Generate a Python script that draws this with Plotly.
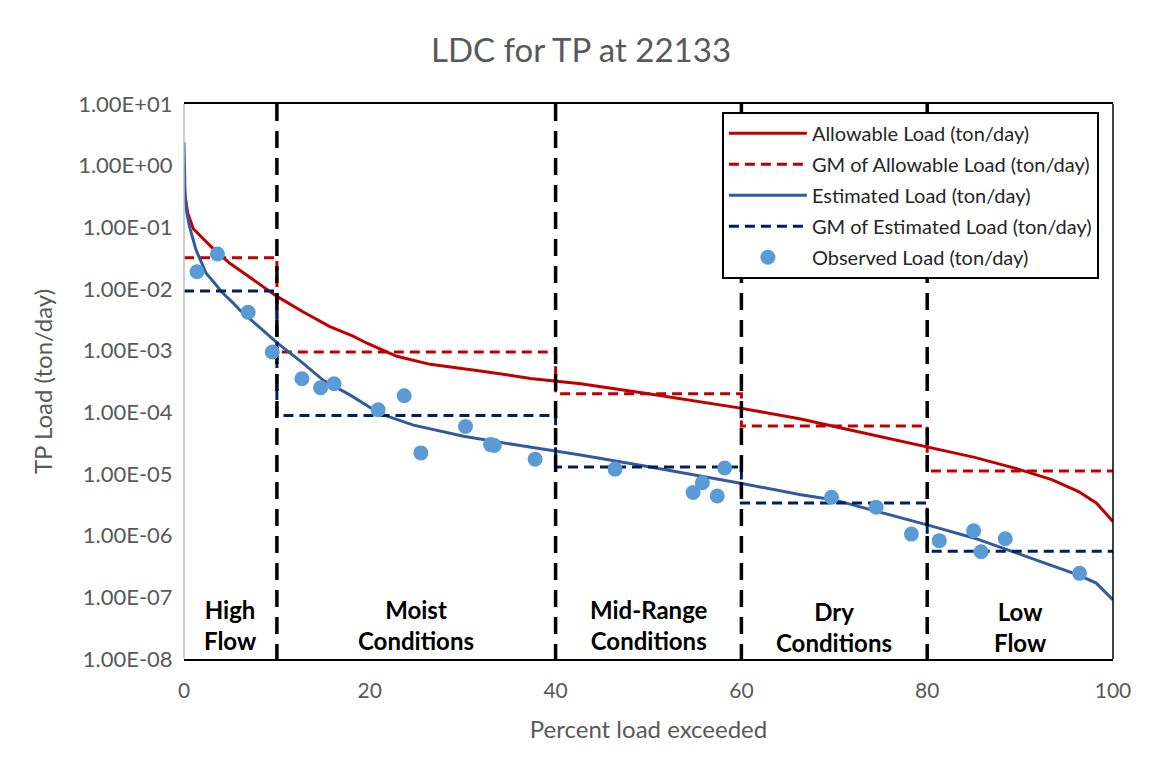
import plotly.graph_objects as go

# ---------------- data ----------------
pct_allow = [0.0, 0.08, 0.4, 1.0, 3.1, 4.9, 6.7, 8.5, 10.0, 12.8, 15.7, 18.2, 19.7, 22.9, 26.5,
             31.9, 37.3, 42.7, 50.0, 59.9, 66.4, 70.0, 80.1, 82.6, 85.1, 89.8, 93.4, 96.3, 98.2, 100.0]
load_allow = [0.50, 0.35, 0.17, 0.095, 0.0457, 0.0263, 0.0170, 0.0110, 0.00759, 0.00427, 0.00245,
              0.00172, 0.00132, 8.1e-4, 6.0e-4, 4.7e-4, 3.55e-4, 2.9e-4, 2.0e-4, 1.17e-4, 7.8e-5,
              5.9e-5, 2.75e-5, 2.3e-5, 1.86e-5, 1.2e-5, 8.1e-6, 5.2e-6, 3.4e-6, 1.7e-6]

pct_est = [0.0, 0.1, 0.25, 0.6, 1.3, 2.4, 3.1, 4.2, 5.3, 6.0, 8.2, 10.0, 12.8, 15.0, 17.9, 21.1, 24.7,
           30.1, 35.5, 39.5, 42.7, 50.2, 59.9, 66.4, 70.0, 80.1, 82.6, 85.1, 89.8, 93.4, 96.3, 98.2, 100.0]
load_est = [2.4, 0.40, 0.19, 0.102, 0.0427, 0.0178, 0.0135, 0.0085, 0.0059, 0.00457, 0.00234, 0.00135,
            6.3e-4, 3.3e-4, 1.9e-4, 9.5e-5, 6.2e-5, 4.1e-5, 3.0e-5, 2.45e-5, 2.04e-5, 1.3e-5,
            7.1e-6, 4.6e-6, 3.8e-6, 1.48e-6, 1.15e-6, 9.1e-7, 5.1e-7, 3.3e-7, 2.3e-7, 1.7e-7, 9.1e-8]

pct_obs = [1.4, 3.6, 6.9, 9.5, 12.7, 14.7, 16.15, 20.9, 23.7, 25.5, 30.3, 33.0, 33.4, 37.8,
           46.4, 54.8, 55.8, 57.4, 58.2, 69.7, 74.5, 78.3, 81.3, 85.0, 85.8, 88.4, 96.4]
load_obs = [1.9e-2, 3.7e-2, 4.2e-3, 9.5e-4, 3.5e-4, 2.5e-4, 2.9e-4, 1.1e-4, 1.86e-4, 2.2e-5,
            5.9e-5, 3.0e-5, 2.9e-5, 1.74e-5, 1.2e-5, 5.0e-6, 7.2e-6, 4.4e-6, 1.25e-5, 4.2e-6,
            2.9e-6, 1.06e-6, 8.3e-7, 1.2e-6, 5.5e-7, 8.9e-7, 2.45e-7]

regime_bounds = [0, 10, 40, 60, 80, 100]
gm_allow = [3.2e-2, 9.5e-4, 2.0e-4, 6.0e-5, 1.12e-5]
gm_est = [9.3e-3, 8.9e-5, 1.3e-5, 3.4e-6, 5.6e-7]
regime_labels = ["High<br>Flow", "Moist<br>Conditions", "Mid-Range<br>Conditions",
                 "Dry<br>Conditions", "Low<br>Flow"]
regime_label_y = [0.062, 0.062, 0.062, 0.057, 0.057]

y_tick_vals = [1e1, 1e0, 1e-1, 1e-2, 1e-3, 1e-4, 1e-5, 1e-6, 1e-7, 1e-8]
y_tick_text = ["1.00E+01", "1.00E+00", "1.00E-01", "1.00E-02", "1.00E-03", "1.00E-04",
               "1.00E-05", "1.00E-06", "1.00E-07", "1.00E-08"]


def step_series(bounds, levels):
    xs, ys = [], []
    for i, lv in enumerate(levels):
        xs += [bounds[i], bounds[i + 1]]
        ys += [lv, lv]
    return xs, ys


FONT = "Lato"
GREY = "#595959"

fig = go.Figure()

gx, gy = step_series(regime_bounds, gm_allow)
ex, ey = step_series(regime_bounds, gm_est)

fig.add_trace(go.Scatter(x=pct_allow, y=load_allow, mode="lines", name="Allowable Load (ton/day)",
                         line=dict(color="#C00000", width=3), legendgroup="a"))
fig.add_trace(go.Scatter(x=gx, y=gy, mode="lines", name="GM of Allowable Load (ton/day)",
                         line=dict(color="#C00000", width=3, dash="10px,6px"), legendgroup="b"))
fig.add_trace(go.Scatter(x=pct_est, y=load_est, mode="lines", name="Estimated Load (ton/day)",
                         line=dict(color="#345A9E", width=3), legendgroup="c"))
fig.add_trace(go.Scatter(x=ex, y=ey, mode="lines", name="GM of Estimated Load (ton/day)",
                         line=dict(color="#002060", width=3, dash="10px,6px"), legendgroup="d"))

# regime boundary lines
bx, by = [], []
for b in regime_bounds[1:-1]:
    bx += [b, b, None]
    by += [y_tick_vals[0], y_tick_vals[-1], None]
fig.add_trace(go.Scatter(x=bx, y=by, mode="lines", showlegend=False, hoverinfo="skip",
                         line=dict(color="black", width=3.5, dash="17px,10px")))

fig.add_trace(go.Scatter(x=pct_obs, y=load_obs, mode="markers", name="Observed Load (ton/day)",
                         marker=dict(color="#5B9BD5", size=15), legendgroup="e"))

for i, lab in enumerate(regime_labels):
    fig.add_annotation(x=(regime_bounds[i] + regime_bounds[i + 1]) / 2, y=regime_label_y[i],
                       xref="x", yref="paper",
                       text="<b>" + lab + "</b>", showarrow=False,
                       font=dict(family=FONT, size=24, color="black"), yanchor="middle")

# page body has an 8px margin, so the figure is laid out 8px right/down of the window origin
fig.update_layout(
    width=1153, height=772,
    margin=dict(l=176, r=48, t=96, b=121),
    paper_bgcolor="white", plot_bgcolor="white",
    title=dict(text="LDC for TP at 22133", x=(581 - 8) / 1153, xanchor="center", y=1 - 42 / 772,
               yanchor="middle", yref="container", xref="container",
               font=dict(family=FONT, size=33, color=GREY)),
    font=dict(family=FONT, color=GREY),
    showlegend=True,
    legend=dict(x=0.579, y=0.986, xanchor="left", yanchor="top", bgcolor="white",
                bordercolor="black", borderwidth=2, tracegroupgap=2, itemwidth=78,
                font=dict(family=FONT, size=20, color="#262626")),
    xaxis=dict(range=[0, 100], dtick=20, showgrid=False, zeroline=False,
               showline=True, linecolor="black", linewidth=1.5, mirror=True,
               ticks="outside", ticklen=12, tickcolor="rgba(0,0,0,0)",
               tickfont=dict(family=FONT, size=21, color=GREY),
               title=dict(text="Percent load exceeded", font=dict(family=FONT, size=24, color=GREY), standoff=20)),
    yaxis=dict(type="log", range=[-8, 1], tickvals=y_tick_vals, ticktext=y_tick_text,
               showgrid=False, zeroline=False, showline=False,
               ticks="outside", ticklen=6, tickcolor="rgba(0,0,0,0)",
               tickfont=dict(family=FONT, size=22, color=GREY),
               title=dict(text="TP Load (ton/day)", font=dict(family=FONT, size=24, color=GREY), standoff=18)),
    shapes=[
        dict(type="line", xref="paper", yref="paper", x0=1, x1=1, y0=0, y1=1,
             line=dict(color="black", width=1.5)),
        dict(type="line", xref="paper", yref="paper", x0=0, x1=0, y0=0, y1=1,
             line=dict(color="#BFBFBF", width=1.5)),
    ],
)

fig.write_html("out.html")
